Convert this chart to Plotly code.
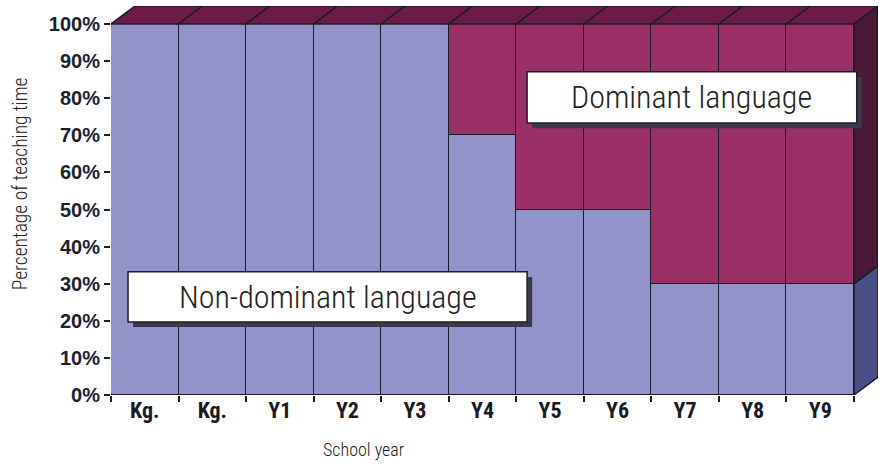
import plotly.graph_objects as go

# ---- data ----
years = ["Kg.", "Kg.", "Y1", "Y2", "Y3", "Y4", "Y5", "Y6", "Y7", "Y8", "Y9"]
non_dominant = [100, 100, 100, 100, 100, 70, 50, 50, 30, 30, 30]
dominant = [0, 0, 0, 0, 0, 30, 50, 50, 70, 70, 70]
y_ticks = [0, 10, 20, 30, 40, 50, 60, 70, 80, 90, 100]
y_tick_labels = [f"{v}%" for v in y_ticks]

# ---- styles ----
C_ND = "#9293c8"
C_D = "#9b3067"
C_TOP = "#6c1b48"
C_SIDE_D = "#4b1837"
C_SIDE_ND = "#4a4f86"
EDGE = "#1c1c28"
DX = 0.355   # depth offset in category units
DY = 4.85    # depth offset in % units
NARROW = "Liberation Sans Narrow, Roboto Condensed, Arial Narrow, Liberation Sans, sans-serif"

n = len(years)
xs = list(range(n))

fig = go.Figure()
fig.add_trace(go.Bar(x=xs, y=non_dominant, width=1, marker=dict(color=C_ND, line=dict(color=EDGE, width=1.5)),
                     name="Non-dominant language", hoverinfo="skip"))
fig.add_trace(go.Bar(x=xs, y=dominant, width=1, marker=dict(color=C_D, line=dict(color=EDGE, width=1.5)),
                     name="Dominant language", hoverinfo="skip"))

shapes = []
# top faces
for i in xs:
    top = non_dominant[i] + dominant[i]
    x0, x1 = i - 0.5, i + 0.5
    shapes.append(dict(type="path", xref="x", yref="y",
                       path=f"M {x0},{top} L {x1},{top} L {x1+DX},{top+DY} L {x0+DX},{top+DY} Z",
                       fillcolor=C_TOP, line=dict(color=EDGE, width=1.5), layer="above"))
# right side faces of last bar
last = n - 1
xr = last + 0.5
segs = [(0, non_dominant[last], C_SIDE_ND),
        (non_dominant[last], non_dominant[last] + dominant[last], C_SIDE_D)]
for y0, y1, col in segs:
    shapes.append(dict(type="path", xref="x", yref="y",
                       path=f"M {xr},{y0} L {xr+DX},{y0+DY} L {xr+DX},{y1+DY} L {xr},{y1} Z",
                       fillcolor=col, line=dict(color=EDGE, width=1.5), layer="above"))

# label boxes (with shadow)
boxes = [
    dict(x0=-0.248, x1=5.66, y0=19.7, y1=33.2, text="Non-dominant language"),
    dict(x0=5.66, x1=10.54, y0=73.3, y1=87.1, text="Dominant language"),
]
annotations = []
for b in boxes:
    shapes.append(dict(type="rect", xref="x", yref="y", x0=b["x0"] + 0.075, x1=b["x1"] + 0.075,
                       y0=b["y0"] - 1.4, y1=b["y1"] - 1.4, fillcolor="#3a3a4a", line=dict(width=0), layer="above"))
    shapes.append(dict(type="rect", xref="x", yref="y", x0=b["x0"], x1=b["x1"], y0=b["y0"], y1=b["y1"],
                       fillcolor="white", line=dict(color=EDGE, width=1.5), layer="above"))
    annotations.append(dict(x=(b["x0"] + b["x1"]) / 2, y=(b["y0"] + b["y1"]) / 2, xref="x", yref="y",
                            text=b["text"], showarrow=False,
                            font=dict(family=NARROW, size=32, color="#222222", weight=300)))

# axis titles
annotations.append(dict(x=-0.1186, y=0.542, xref="paper", yref="paper", text="Percentage of teaching time",
                        textangle=-90, showarrow=False, xanchor="center", yanchor="middle",
                        font=dict(family=NARROW, size=19.5, color="#222222", weight=300)))
annotations.append(dict(x=0.33, y=-0.141, xref="paper", yref="paper", text="School year",
                        showarrow=False, xanchor="center", yanchor="middle",
                        font=dict(family=NARROW, size=18, color="#222222", weight=300)))

fig.update_layout(
    width=879, height=473,
    margin=dict(l=111, r=1, t=6, b=78),
    paper_bgcolor="white", plot_bgcolor="white",
    barmode="stack", bargap=0, showlegend=False,
    shapes=shapes, annotations=annotations,
    xaxis=dict(range=[-0.5, n - 0.5 + DX], tickmode="array", tickvals=xs, ticktext=years,
               ticks="", showgrid=False, zeroline=False, showline=False, automargin=False,
               tickfont=dict(family=NARROW, size=22, color="#1a1a24", weight="bold"),
               minor=dict(tickmode="array", tickvals=[i - 0.5 for i in range(n + 1)], ticks="outside",
                          ticklen=6, tickwidth=1.5, tickcolor=EDGE, showgrid=False),
               fixedrange=True),
    yaxis=dict(range=[0, 100 + DY], tickmode="array", tickvals=y_ticks, ticktext=y_tick_labels,
               ticks="outside", ticklen=6, tickwidth=1.5, tickcolor=EDGE,
               showgrid=False, zeroline=False, showline=False, automargin=False,
               tickfont=dict(family="Liberation Sans, Arial, sans-serif", size=20, color="#1a2230", weight="bold"),
               fixedrange=True),
)

fig.write_html("out.html", config={"displayModeBar": False},
               post_script="document.body.style.margin='0';")
